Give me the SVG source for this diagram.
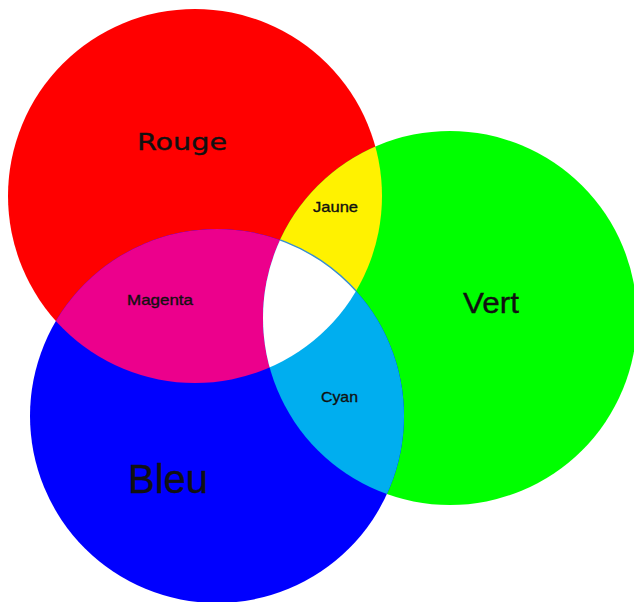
<svg xmlns="http://www.w3.org/2000/svg" width="634" height="602" viewBox="0 0 634 602">
<style>
text{font-family:"Liberation Sans",Arial,sans-serif;fill:#111;text-anchor:middle;stroke:#111;stroke-width:0.35}
.small{font-size:15px}
</style>
<defs>
<clipPath id="cRed"><circle cx="195" cy="196" r="187"/></clipPath>
<clipPath id="cGreen"><circle cx="450" cy="318" r="187"/></clipPath>
</defs>
<rect width="634" height="602" fill="#ffffff"/>
<g id="rouge"><circle cx="195" cy="196" r="187" fill="#ff0000"/></g>
<g id="vert"><circle cx="450" cy="318" r="187" fill="#00ff00"/></g>
<g id="bleu"><circle cx="217" cy="416" r="187" fill="#0000ff"/></g>
<g id="jaune"><circle cx="450" cy="318" r="187" fill="#fff200" clip-path="url(#cRed)"/></g>
<g id="magenta"><circle cx="217" cy="416" r="187" fill="#ec008c" clip-path="url(#cRed)"/></g>
<g id="cyan"><circle cx="217" cy="416" r="187" fill="#00aeef" clip-path="url(#cGreen)"/></g>
<g id="blanc"><g clip-path="url(#cRed)"><circle cx="217" cy="416" r="187" fill="#ffffff" stroke="#3a8fd0" stroke-width="1.5" clip-path="url(#cGreen)"/></g></g>
<g id="labels">
<text x="182" y="150" style="font-family:'DejaVu Sans',sans-serif;font-size:23px" textLength="90" lengthAdjust="spacingAndGlyphs">Rouge</text>
<text x="335.5" y="212" class="small" textLength="45" lengthAdjust="spacingAndGlyphs">Jaune</text>
<text x="160" y="305" class="small" textLength="66" lengthAdjust="spacingAndGlyphs">Magenta</text>
<text x="491" y="313" style="font-size:29px" textLength="56" lengthAdjust="spacingAndGlyphs">Vert</text>
<text x="339.5" y="402" class="small" textLength="37" lengthAdjust="spacingAndGlyphs">Cyan</text>
<text x="168" y="493" style="font-size:41px" textLength="80" lengthAdjust="spacingAndGlyphs">Bleu</text>
</g>
</svg>
